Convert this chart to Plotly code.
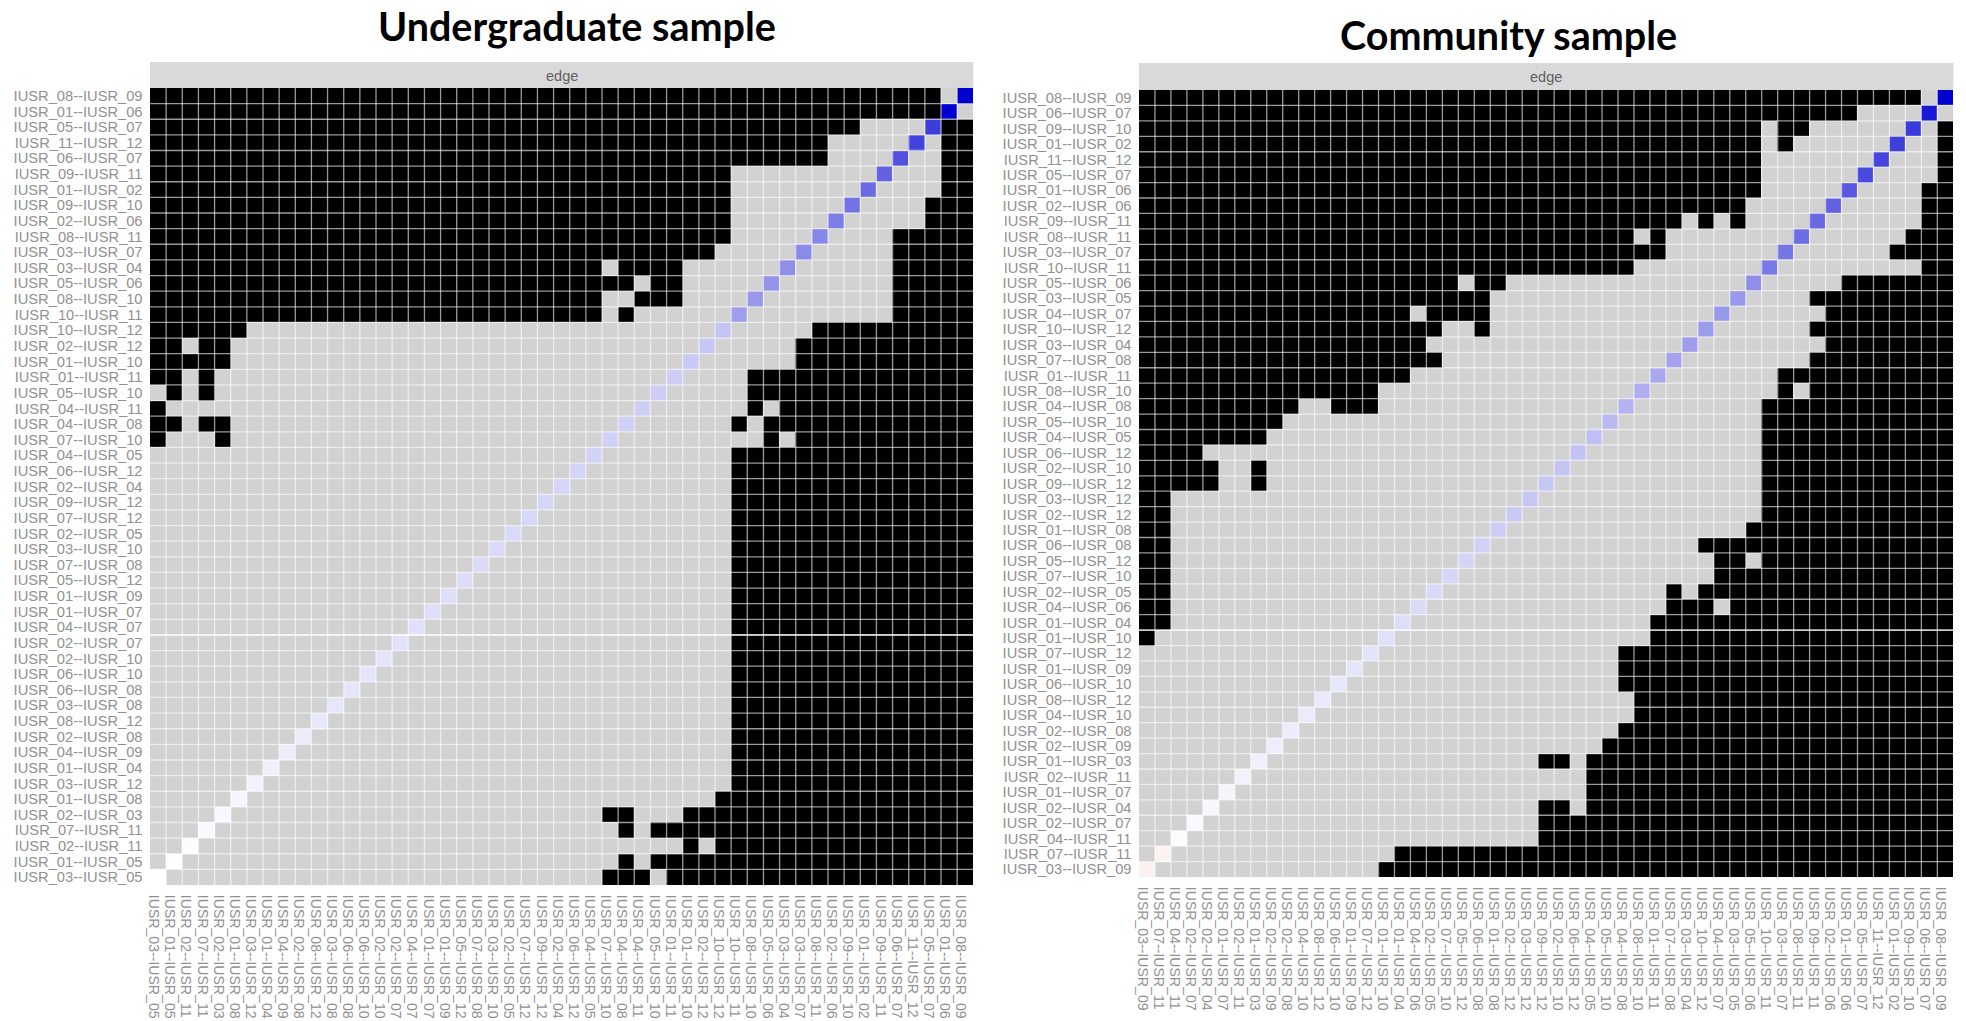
import plotly.graph_objects as go

# ---- data ----
under_edges = ["08-09","01-06","05-07","11-12","06-07","09-11","01-02","09-10","02-06","08-11","03-07","03-04","05-06",
               "08-10","10-11","10-12","02-12","01-10","01-11","05-10","04-11","04-08","07-10","04-05","06-12","02-04",
               "09-12","07-12","02-05","03-10","07-08","05-12","01-09","01-07","04-07","02-07","02-10","06-10","06-08",
               "03-08","08-12","02-08","04-09","01-04","03-12","01-08","02-03","07-11","02-11","01-05","03-05"]
comm_edges = ["08-09","06-07","09-10","01-02","11-12","05-07","01-06","02-06","09-11","08-11","03-07","10-11","05-06",
              "03-05","04-07","10-12","03-04","07-08","01-11","08-10","04-08","05-10","04-05","06-12","02-10","09-12",
              "03-12","02-12","01-08","06-08","05-12","07-10","02-05","04-06","01-04","01-10","07-12","01-09","06-10",
              "08-12","04-10","02-08","02-09","01-03","02-11","01-07","02-04","02-07","04-11","07-11","03-09"]

# significant (black) columns per row, upper-left triangle; the plot is mirrored on its diagonal
under_black = ["0-48","0-48","0-43","0-41","0-41","0-35","0-35","0-35","0-35","0-35","0-34","0-27,29-32","0-29,31-32",
               "0-27,30-32","0-27,29","0-5","0-1,3-4","0-4","0-1,3","1,3","0","0-1,3-4","0,4"]
comm_black = ["0-48","0-44","0-38,40-41","0-38,40","0-38","0-38","0-38","0-37","0-33,35,37","0-30,32","0-32","0-30",
              "0-19,21-22","0-21","0-16,18-21","0-18,21","0-17","0-18","0-16","0-14","0-9,12-14","0-8","0-7","0-3",
              "0-4,7","0-4,7","0-1","0-1","0-1","0-1","0-1","0-1","0-1","0-1","0-1","0"]

# edge weights on the diagonal, top row first
under_diag = [1.0,1.0,.76,.74,.68,.61,.58,.55,.51,.47,.46,.44,.42,.40,.38,.23,.22,.21,.20,.195,.19,.185,.18,.175,.17,
              .165,.16,.155,.15,.145,.14,.135,.13,.125,.12,.115,.11,.105,.10,.095,.09,.08,.07,.06,.05,.04,.03,.02,.01,.005,0]
comm_diag = [1.0,.9,.77,.75,.73,.71,.65,.62,.59,.57,.54,.52,.44,.40,.40,.39,.38,.36,.34,.32,.30,.27,.25,.24,.23,.22,
             .22,.21,.20,.18,.17,.16,.15,.14,.13,.12,.11,.10,.09,.085,.08,.075,.07,.06,.05,.04,.03,.02,.01,-.05,-.06]

TITLES = ["Undergraduate sample", "Community sample"]
STRIP_TEXT = "edge"

# ---- layout (pixels of the 1966x1021 page) ----
W, H = 1966, 1021
def fx(p): return p / W
def fy(p): return 1 - p / H

panels = [
    dict(edges=under_edges, black=under_black, diag=under_diag, x0=150.0, x1=973.3, y0=88.0, y1=885.0,
         strip=(62, 88), title=(577, 25, 39.5), edge_xy=(561.7, 76)),
    dict(edges=comm_edges, black=comm_black, diag=comm_diag, x0=1139.0, x1=1953.3, y0=90.0, y1=877.0,
         strip=(63, 90), title=(1508, 34, 39.5), edge_xy=(1546, 77)),
]

def parse(spec):
    out = []
    for part in spec.split(","):
        a, _, b = part.partition("-")
        out += list(range(int(a), int(b or a) + 1))
    return out

fig = go.Figure()
shapes, annotations = [], []
layout_axes = {}

for i, p in enumerate(panels, start=1):
    labels = [f"IUSR_{e.split('-')[0]}--IUSR_{e.split('-')[1]}" for e in p["edges"]]
    n = len(labels)
    z = [[0 for _ in range(n)] for _ in range(n)]
    for r, spec in enumerate(p["black"]):
        for c in parse(spec):
            z[r][c] = 1
            z[n - 1 - c][n - 1 - r] = 1
    zd = [[None] * n for _ in range(n)]
    for r in range(n):
        z[r][n - 1 - r] = None
        zd[r][n - 1 - r] = p["diag"][r]

    edges = list(range(n + 1))
    mids = [k + 0.5 for k in range(n)]

    xa, ya = f"x{i}", f"y{i}"
    fig.add_trace(go.Heatmap(x=edges, y=edges, z=z, xaxis=xa, yaxis=ya, zmin=0, zmax=1, showscale=False,
                             colorscale=[[0, "#d2d2d2"], [1, "#000000"]], hoverinfo="skip"))
    fig.add_trace(go.Heatmap(x=edges, y=edges, z=zd, xaxis=xa, yaxis=ya, zmin=-1, zmax=1, showscale=False,
                             colorscale=[[0, "#d00000"], [0.5, "#ffffff"], [1, "#0000d0"]], hoverinfo="skip"))

    # white tile borders
    gx, gy = [], []
    for e in edges[1:-1]:
        gx += [e, e, None, 0, n, None]
        gy += [0, n, None, e, e, None]
    fig.add_trace(go.Scatter(x=gx, y=gy, xaxis=xa, yaxis=ya, mode="lines", hoverinfo="skip", showlegend=False,
                             line=dict(color="rgba(255,255,255,0.6)", width=1.3)))
    # brighter seam across the picture
    fig.add_trace(go.Scatter(x=[0, n], y=[35, 35], xaxis=xa, yaxis=ya, mode="lines",
                             hoverinfo="skip", showlegend=False, line=dict(color="rgba(255,255,255,0.85)", width=1.4)))

    layout_axes[f"xaxis{i}"] = dict(domain=[fx(p["x0"]), fx(p["x1"])], anchor=ya, range=[0, n], showgrid=False, zeroline=False,
                             tickmode="array", tickvals=[m - 0.27 for m in mids], ticktext=labels[::-1],
                             tickangle=90, ticks="outside", ticklen=6, tickcolor="rgba(0,0,0,0)", automargin=False,
                             tickfont=dict(family="Liberation Sans", size=14.1, color="#919191"))
    layout_axes[f"yaxis{i}"] = dict(domain=[fy(p["y1"]), fy(p["y0"])], anchor=xa, range=[n, 0], showgrid=False, zeroline=False,
                             tickmode="array", tickvals=mids, ticktext=labels, ticks="outside", ticklen=3.5,
                             tickcolor="rgba(0,0,0,0)", automargin=False,
                             tickfont=dict(family="Liberation Sans", size=14.7, color="#919191"))

    shapes.append(dict(type="rect", xref="paper", yref="paper", x0=fx(p["x0"]), x1=fx(p["x1"]),
                       y0=fy(p["strip"][1]), y1=fy(p["strip"][0]), fillcolor="#d9d9d9", line=dict(width=0), layer="below"))
    annotations.append(dict(text=STRIP_TEXT, xref="paper", yref="paper", x=fx(p["edge_xy"][0]), y=fy(p["edge_xy"][1]),
                            showarrow=False, xanchor="center", yanchor="middle",
                            font=dict(family="Liberation Sans", size=14.5, color="#5f5f5f")))
    tx, ty, ts = p["title"]
    annotations.append(dict(text=f"<b>{TITLES[i-1]}</b>", xref="paper", yref="paper", x=fx(tx), y=fy(ty), showarrow=False,
                            xanchor="center", yanchor="middle", font=dict(family="Lato", size=ts, color="#000000")))

fig.update_layout(width=W, height=H, margin=dict(l=0, r=0, t=0, b=0), paper_bgcolor="white", plot_bgcolor="white",
                  showlegend=False, shapes=shapes, annotations=annotations, **layout_axes)
fig.write_html("out.html", config={"displayModeBar": False},
               post_script="document.body.style.margin='0';document.body.style.overflow='hidden';")
